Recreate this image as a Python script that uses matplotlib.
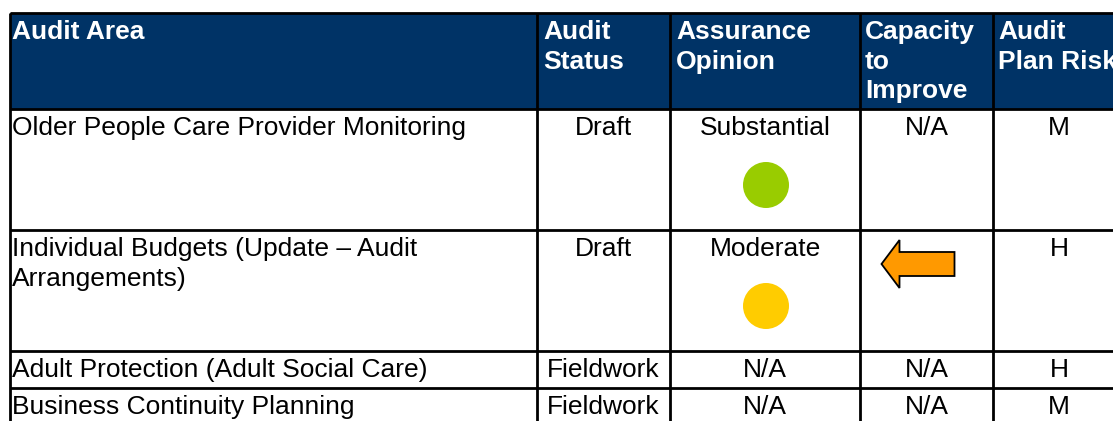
import matplotlib
matplotlib.use("Agg")
import matplotlib.pyplot as plt
from matplotlib.patches import Rectangle, Circle, Polygon

# ---- data ----
headers = ["Audit Area", "Audit\nStatus", "Assurance\nOpinion", "Capacity\nto\nImprove", "Audit\nPlan Risk"]
audit_areas = ["Older People Care Provider Monitoring",
               "Individual Budgets (Update \u2013 Audit\nArrangements)",
               "Adult Protection (Adult Social Care)",
               "Business Continuity Planning"]
audit_status = ["Draft", "Draft", "Fieldwork", "Fieldwork"]
assurance = ["Substantial", "Moderate", "N/A", "N/A"]
assurance_dot = ["#99CC00", "#FFCC00", None, None]
capacity = ["N/A", "arrow_left", "N/A", "N/A"]
plan_risk = ["M", "H", "H", "M"]

# ---- layout ----
W, H = 1113, 421
col_edges = [10, 537, 670, 860, 993, 1125]
row_edges = [13, 109, 230, 351, 388, 426]
head_pad = [2, 6, 6, 5, 5]
navy = "#003366"
fs_head = 19
fs_body = 19
font = "Liberation Sans"

fig = plt.figure(figsize=(W / 100, H / 100), dpi=100)
ax = fig.add_axes([0, 0, 1, 1])
ax.set_xlim(0, W)
ax.set_ylim(H, 0)
ax.axis("off")

# header background
ax.add_patch(Rectangle((col_edges[0], row_edges[0]), col_edges[-1] - col_edges[0],
                       row_edges[1] - row_edges[0], facecolor=navy, edgecolor="none"))
for i, h in enumerate(headers):
    ax.text(col_edges[i] + head_pad[i], row_edges[0] + 7, h, ha="left", va="top", color="white",
            fontsize=fs_head, fontweight="bold", family=font, linespacing=1.3)

# body
cols = [audit_areas, audit_status, assurance, capacity, plan_risk]
for r in range(len(audit_areas)):
    top = row_edges[r + 1]
    for c, vals in enumerate(cols):
        v = vals[r]
        if v == "arrow_left":
            cx = (col_edges[c] + col_edges[c + 1]) / 2
            cy = top + 34
            pts = [(cx - 45, cy), (cx - 27, cy - 24), (cx - 27, cy - 12), (cx + 28, cy - 12),
                   (cx + 28, cy + 12), (cx - 27, cy + 12), (cx - 27, cy + 24)]
            ax.add_patch(Polygon(pts, closed=True, facecolor="#FF9900", edgecolor="black",
                                 linewidth=1.3, zorder=3))
            continue
        if c == 0:
            ax.text(col_edges[0] + 2, top + 7, v, ha="left", va="top", color="black",
                    fontsize=fs_body, family=font, linespacing=1.3)
        else:
            ax.text((col_edges[c] + col_edges[c + 1]) / 2, top + 7, v, ha="center", va="top",
                    color="black", fontsize=fs_body, family=font)
    if assurance_dot[r]:
        cx = (col_edges[2] + col_edges[3]) / 2 + 1
        ax.add_patch(Circle((cx, top + 76), 23, facecolor=assurance_dot[r], edgecolor="none"))

# grid lines
lw = 2.0
for y in row_edges[:-1]:
    ax.plot([col_edges[0], col_edges[-1]], [y, y], color="black", lw=lw, solid_capstyle="butt")
for x in col_edges[:-1]:
    ax.plot([x, x], [row_edges[0], row_edges[-1]], color="black", lw=lw, solid_capstyle="butt")

fig.savefig("out.png", dpi=100)
